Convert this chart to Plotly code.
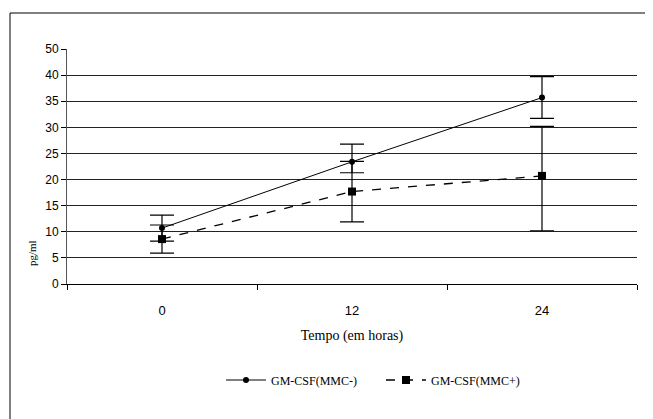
import plotly.graph_objects as go

categories = ["0", "12", "24"]
mmc_minus = [10.7, 23.4, 35.7]
mmc_minus_err_plus = [2.5, 3.4, 4.0]
mmc_minus_err_minus = [2.5, 2.1, 4.0]
mmc_plus = [8.6, 17.7, 20.7]
mmc_plus_err_plus = [2.7, 5.8, 9.5]
mmc_plus_err_minus = [2.7, 5.8, 10.5]
y_tickvals = [0, 5, 10, 15, 20, 25, 30, 35, 40, 45]
y_ticktext = ["0", "5", "10", "15", "20", "25", "30", "35", "40", "50"]

# page body adds an 8px offset; figure coordinates are reference minus 8
OFF = 8
W, H = 653 - OFF, 419 - OFF
L, R, T, B = 67 - OFF, 16, 49 - OFF, 135
pw, ph = W - L - R, H - T - B

SERIF = "Liberation Serif, Times New Roman, serif"
SANS = "Liberation Sans, Arial, sans-serif"

fig = go.Figure()
fig.add_trace(go.Scatter(
    x=categories, y=mmc_minus, name="GM-CSF(MMC-)", mode="lines+markers",
    line=dict(color="black", width=1), marker=dict(symbol="circle", size=6, color="black"),
    error_y=dict(type="data", symmetric=False, array=mmc_minus_err_plus,
                 arrayminus=mmc_minus_err_minus, color="black", thickness=1.2, width=12)))
fig.add_trace(go.Scatter(
    x=categories, y=mmc_plus, name="GM-CSF(MMC+)", mode="lines+markers",
    line=dict(color="black", width=1.3, dash="dash"), marker=dict(symbol="square", size=8, color="black"),
    error_y=dict(type="data", symmetric=False, array=mmc_plus_err_plus,
                 arrayminus=mmc_plus_err_minus, color="black", thickness=1.2, width=12)))

def px_x(x):
    return (x - OFF - L) / pw
def px_y(y):
    return (H - B - (y - OFF)) / ph

fig.update_layout(
    width=W, height=H, margin=dict(l=L, r=R, t=T, b=B, autoexpand=False),
    paper_bgcolor="white", plot_bgcolor="white",
    font=dict(family=SERIF, color="black", size=12),
    showlegend=True,
    legend=dict(orientation="h", x=px_x(381), xanchor="center", y=px_y(380), yanchor="middle",
                font=dict(size=12, family=SERIF), itemwidth=40, tracegroupgap=0,
                entrywidth=105, entrywidthmode="pixels"),
    xaxis=dict(type="category", range=[-0.5, 2.5], showgrid=False, showline=True,
               linecolor="black", linewidth=1, ticks="outside", tickson="boundaries",
               ticklen=5, tickcolor="black", ticklabelstandoff=14,
               tickfont=dict(size=13, family=SANS),
               title=dict(text="Tempo (em horas)", font=dict(size=14, family=SERIF), standoff=13)),
    yaxis=dict(range=[0, 45], tickvals=y_tickvals, ticktext=y_ticktext, showgrid=True,
               gridcolor="#222222", gridwidth=1.3, showline=True, linecolor="#555555", linewidth=1,
               ticks="outside", ticklen=5, tickcolor="black", zeroline=False,
               tickfont=dict(size=12, family=SANS)),
    shapes=[dict(type="rect", xref="paper", yref="paper",
                 x0=px_x(10), x1=px_x(670), y0=px_y(440), y1=px_y(13),
                 line=dict(color="black", width=1), fillcolor="rgba(0,0,0,0)", layer="below")],
    annotations=[dict(text="pg/ml", xref="paper", yref="paper", x=px_x(32), y=px_y(253),
                      xanchor="center", yanchor="middle",
                      showarrow=False, textangle=-90, font=dict(size=11, family=SERIF))],
)
fig.write_html("out.html")
